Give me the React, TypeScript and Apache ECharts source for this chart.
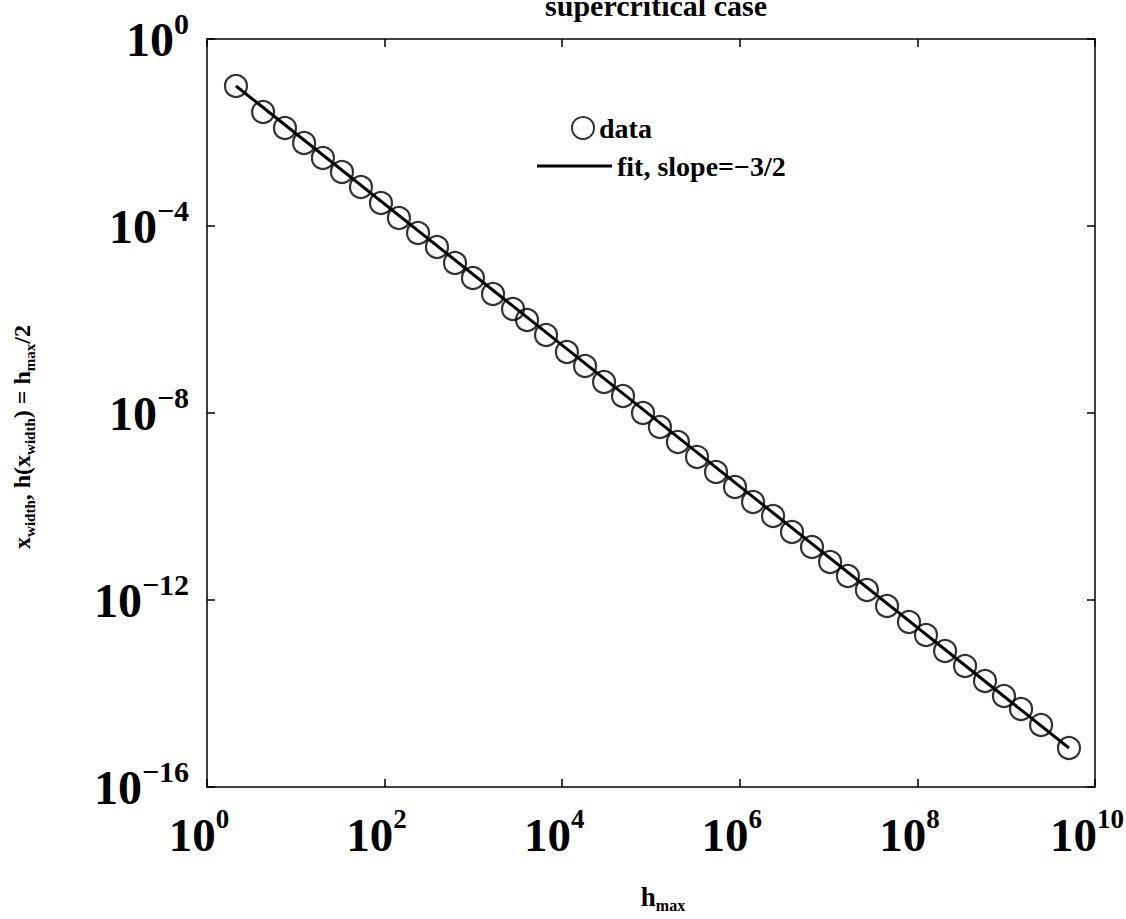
import React, { useEffect, useRef } from "react";
import * as echarts from "echarts";

// data
const hMax = [
  2.12, 4.28, 7.55, 12.4, 20.2, 33.1, 54.2, 91, 145, 238, 389, 621, 989, 1663,
  2793, 4018, 6577, 1.13e4, 1.81e4, 2.96e4, 4.84e4, 8.13e4, 1.26e5, 2.01e5,
  3.3e5, 5.4e5, 8.83e5, 1.41e6, 2.37e6, 3.87e6, 6.5e6, 1.04e7, 1.65e7, 2.7e7,
  4.55e7, 8.04e7, 1.25e8, 2.05e8, 3.44e8, 5.77e8, 9.44e8, 1.47e9, 2.47e9, 5.09e9,
];
const xWidth = [
  9.9e-2, 2.75e-2, 1.25e-2, 5.96e-3, 2.85e-3, 1.43e-3, 6.82e-4, 3.1e-4, 1.48e-4,
  7.08e-5, 3.56e-5, 1.62e-5, 7.73e-6, 3.51e-6, 1.68e-6, 9.75e-7, 4.66e-7, 2.02e-7,
  1.01e-7, 4.6e-8, 2.31e-8, 1.0e-8, 5.02e-9, 2.4e-9, 1.15e-9, 5.47e-10, 2.61e-10,
  1.25e-10, 6.27e-11, 2.85e-11, 1.36e-11, 6.5e-12, 3.26e-12, 1.64e-12, 7.45e-13,
  3.38e-13, 1.78e-13, 8.11e-14, 3.87e-14, 1.85e-14, 8.85e-15, 4.66e-15, 2.12e-15,
  6.82e-16,
];
const fitX = [2.12, 5.09e9];
const fitY = [9.9e-2, 6.82e-16];

const xTickValues = [1, 1e2, 1e4, 1e6, 1e8, 1e10];
const xTickExponents = ["0", "2", "4", "6", "8", "10"];
const yTickValues = [1e-16, 1e-12, 1e-8, 1e-4, 1];
const yTickExponents = ["\u221216", "\u221212", "\u22128", "\u22124", "0"];

const titleText = "supercritical case";
const legendNames = ["data", "fit, slope=\u22123/2"];

const FONT = "'Liberation Serif', 'Times New Roman', serif";

function expLabel(values: number[], exps: string[]) {
  return (v: number) => {
    let best = 0;
    let bd = Infinity;
    values.forEach((t, i) => {
      const d = Math.abs(Math.log10(t) - Math.log10(v));
      if (d < bd) {
        bd = d;
        best = i;
      }
    });
    return `{b|10}{s|${exps[best]}}`;
  };
}

const xTickRich = {
  b: { fontFamily: FONT, fontWeight: "bold", fontSize: 47, color: "#000" },
  s: {
    fontFamily: FONT,
    fontWeight: "bold",
    fontSize: 27,
    color: "#000",
    padding: [0, 0, 32, 0],
  },
};
const yTickRich = {
  b: { fontFamily: FONT, fontWeight: "bold", fontSize: 48, color: "#000" },
  s: {
    fontFamily: FONT,
    fontWeight: "bold",
    fontSize: 30,
    color: "#000",
    padding: [0, 0, 32, 0],
  },
};

const legendText = { fontFamily: FONT, fontWeight: "bold", fontSize: 28, color: "#000" };

export default function App() {
  const ref = useRef<HTMLDivElement>(null);
  useEffect(() => {
    if (!ref.current) return;
    const chart = echarts.init(ref.current, null, { renderer: "svg" });
    const axisCommon = {
      type: "log" as const,
      logBase: 10,
      axisLine: { show: true, lineStyle: { color: "#000", width: 1.5 } },
      axisTick: { show: true, inside: true, length: 8, lineStyle: { color: "#000", width: 1.5 } },
      splitLine: { show: false },
      minorTick: { show: false },
    };
    chart.setOption({
      animation: false,
      backgroundColor: "#fff",
      title: {
        text: titleText,
        left: 651,
        textAlign: "center",
        top: -15,
        textStyle: { fontFamily: FONT, fontWeight: "bold", fontSize: 30, color: "#000" },
      },
      legend: [
        {
          left: 566,
          top: 109,
          itemWidth: 22,
          itemHeight: 22,
          data: [{ name: legendNames[0], icon: "circle" }],
          textStyle: legendText,
        },
        {
          left: 532,
          top: 147,
          itemWidth: 75,
          itemHeight: 22,
          itemGap: 0,
          data: [{ name: legendNames[1], icon: "path://M0,0L75,0L75,3L0,3Z" }],
          textStyle: legendText,
        },
      ],
      grid: {
        left: 207,
        top: 39,
        width: 888,
        height: 748,
        show: false,
        containLabel: false,
        outerBoundsMode: "none",
      },
      xAxis: [
        {
          ...axisCommon,
          position: "bottom",
          min: 1,
          max: 1e10,
          interval: 2,
          axisTick: { ...axisCommon.axisTick, customValues: xTickValues },
          axisLabel: {
            show: true,
            margin: 18,
            padding: [0, 16, 0, 0],
            customValues: xTickValues,
            formatter: expLabel(xTickValues, xTickExponents),
            rich: xTickRich,
          },
          name: "{m|h}{s|max}",
          nameLocation: "middle",
          nameGap: 94,
          nameTextStyle: {
            padding: [0, 0, 0, 24],
            rich: {
              m: { fontFamily: FONT, fontWeight: "bold", fontSize: 27, color: "#000" },
              s: { fontFamily: FONT, fontWeight: "bold", fontSize: 16, color: "#000", padding: [16, 0, 0, 0] },
            },
          },
        },
        {
          ...axisCommon,
          position: "top",
          min: 1,
          max: 1e10,
          interval: 2,
          axisTick: { ...axisCommon.axisTick, customValues: xTickValues },
          axisLabel: { show: false },
        },
      ],
      yAxis: [
        {
          ...axisCommon,
          position: "left",
          min: 1e-16,
          max: 1,
          interval: 4,
          axisTick: { ...axisCommon.axisTick, customValues: yTickValues },
          axisLabel: {
            show: true,
            margin: 18,
            customValues: yTickValues,
            formatter: expLabel(yTickValues, yTickExponents),
            rich: yTickRich,
          },
          name: "{m|x}{s|width}{m|, h(x}{s|width}{m|) = h}{s|max}{m|/2}",
          nameLocation: "middle",
          nameRotate: 90,
          nameGap: 170,
          nameTextStyle: {
            padding: [0, 48, 0, 0],
            rich: {
              m: { fontFamily: FONT, fontWeight: "bold", fontSize: 24, color: "#000" },
              s: { fontFamily: FONT, fontWeight: "bold", fontSize: 15, color: "#000", padding: [16, 0, 0, 0] },
            },
          },
        },
        {
          ...axisCommon,
          position: "right",
          min: 1e-16,
          max: 1,
          interval: 4,
          axisTick: { ...axisCommon.axisTick, customValues: yTickValues },
          axisLabel: { show: false },
        },
      ],
      series: [
        {
          name: legendNames[0],
          type: "scatter",
          xAxisIndex: 0,
          yAxisIndex: 0,
          symbol: "circle",
          symbolSize: 22,
          itemStyle: { color: "rgba(255,255,255,0)", borderColor: "#000", borderWidth: 2.2 },
          data: hMax.map((x, i) => [x, xWidth[i]]),
          z: 2,
        },
        {
          name: legendNames[1],
          type: "line",
          xAxisIndex: 0,
          yAxisIndex: 0,
          showSymbol: false,
          symbol: "none",
          lineStyle: { color: "#000", width: 3 },
          itemStyle: { color: "#000" },
          data: fitX.map((x, i) => [x, fitY[i]]),
          z: 3,
        },
      ],
    });
    return () => chart.dispose();
  }, []);
  return (
    <div
      ref={ref}
      style={{ position: "absolute", left: 0, top: 0, width: 1126, height: 919, background: "#fff" }}
    />
  );
}
